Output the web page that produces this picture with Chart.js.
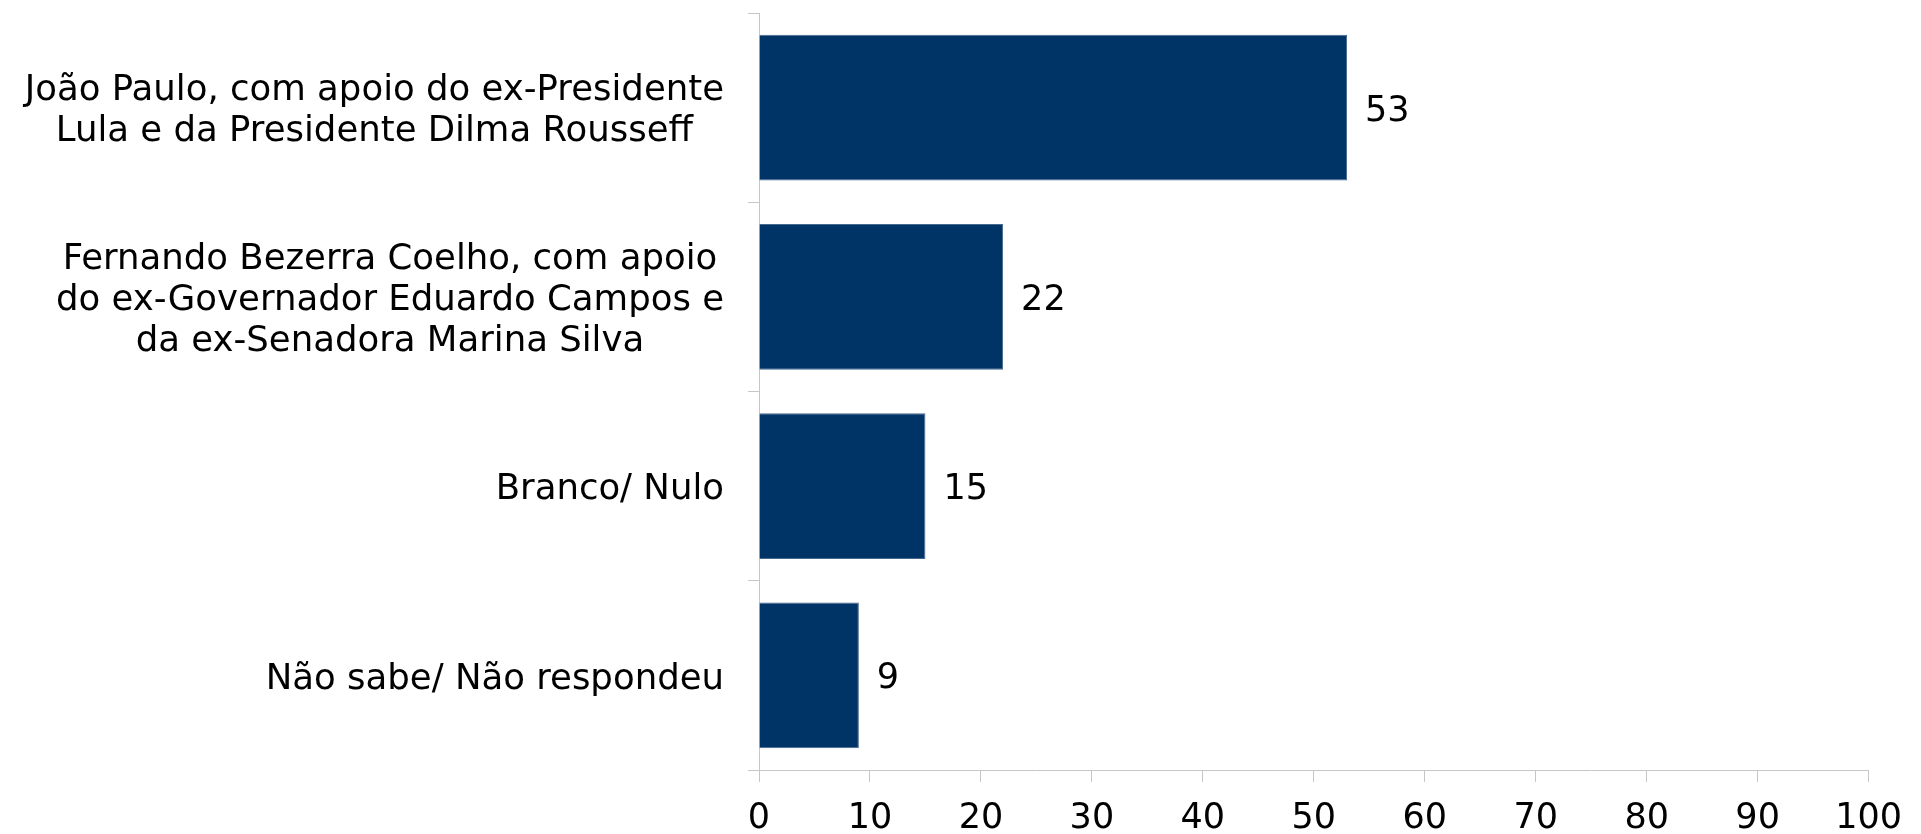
<!DOCTYPE html>
<html lang="pt">
<head>
  <meta charset="UTF-8" />
  <title>Intenção de voto</title>
  <script src="https://cdn.jsdelivr.net/npm/chart.js"></script>
  <style>
    html, body {
      margin: 0;
      padding: 0;
      background: #ffffff;
      overflow: hidden;
    }
    .wrap {
      position: relative;
      width: 1921px;
      height: 834px;
    }
  </style>
</head>
<body>
  <div class="wrap">
    <canvas id="barChart"></canvas>
  </div>

  <script>
    // data
    const categories = [
      ["João Paulo, com apoio do ex-Presidente", "Lula e da Presidente Dilma Rousseff"],
      ["Fernando Bezerra Coelho, com apoio", "do ex-Governador Eduardo Campos e", "da ex-Senadora Marina Silva"],
      ["Branco/ Nulo"],
      ["Não sabe/ Não respondeu"]
    ];
    const values = [53, 22, 15, 9];
    const xMin = 0;
    const xMax = 100;
    const xStep = 10;

    const FONT = "'DejaVu Sans', Verdana, sans-serif";
    const barColor = '#003366';
    const axisGray = '#c6c6c6';

    Chart.defaults.font.family = FONT;
    Chart.defaults.color = '#000';

    // category labels: each block right-aligned to the axis, its lines centred
    const categoryLabels = {
      id: 'categoryLabels',
      afterDraw(chart) {
        const ctx = chart.ctx;
        const y = chart.scales.y;
        const lineH = 41;
        const rightEdge = chart.chartArea.left - 35;
        ctx.save();
        ctx.font = '35.5px ' + FONT;
        ctx.fillStyle = '#000';
        ctx.textAlign = 'center';
        ctx.textBaseline = 'middle';
        categories.forEach((lines, i) => {
          const cy = y.getPixelForValue(i) + 4;
          const w = Math.max(...lines.map(l => ctx.measureText(l).width));
          const cx = rightEdge - w / 2;
          lines.forEach((l, j) => {
            ctx.fillText(l, cx, cy + (j - (lines.length - 1) / 2) * lineH);
          });
        });
        ctx.restore();
      }
    };

    // value labels to the right of each bar
    const valueLabels = {
      id: 'valueLabels',
      afterDatasetsDraw(chart) {
        const ctx = chart.ctx;
        const meta = chart.getDatasetMeta(0);
        ctx.save();
        ctx.font = '35px ' + FONT;
        ctx.fillStyle = '#000';
        ctx.textAlign = 'left';
        ctx.textBaseline = 'middle';
        meta.data.forEach((bar, i) => {
          ctx.fillText(String(values[i]), bar.x + 18, bar.y + 4);
        });
        ctx.restore();
      }
    };

    new Chart(document.getElementById('barChart'), {
      type: 'bar',
      data: {
        labels: categories,
        datasets: [{
          data: values,
          backgroundColor: barColor,
          borderColor: '#46698f',
          borderWidth: 1,
          barPercentage: 0.77,
          categoryPercentage: 1
        }]
      },
      options: {
        indexAxis: 'y',
        responsive: true,
        maintainAspectRatio: false,
        animation: false,
        layout: {
          padding: { left: 748, top: 13, right: 39, bottom: 0 }
        },
        plugins: {
          legend: { display: false },
          tooltip: { enabled: false }
        },
        scales: {
          x: {
            min: xMin,
            max: xMax,
            afterFit(scale) { scale.height = 64; },
            ticks: {
              stepSize: xStep,
              color: '#000',
              padding: 19,
              font: { size: 35, lineHeight: 1 },
              maxRotation: 0
            },
            grid: {
              drawOnChartArea: false,
              tickLength: 12,
              color: axisGray
            },
            border: { color: axisGray }
          },
          y: {
            ticks: { display: false },
            grid: {
              offset: true,
              drawOnChartArea: false,
              tickLength: 11,
              color: axisGray
            },
            border: { color: axisGray }
          }
        }
      },
      plugins: [categoryLabels, valueLabels]
    });
  </script>
</body>
</html>
